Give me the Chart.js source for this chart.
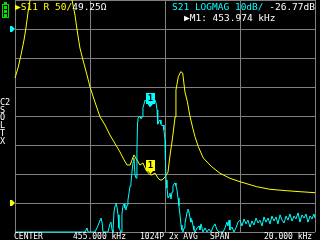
<!DOCTYPE html>
<html>
<head>
<meta charset="utf-8">
<script src="https://cdn.jsdelivr.net/npm/chart.js@4/dist/chart.umd.min.js"></script>
<style>
  html, body { margin: 0; padding: 0; background: #000; }
  #wrap { position: relative; width: 320px; height: 240px; overflow: hidden; background: #000; }
  #chart { position: absolute; left: 0; top: 0; }
  .t { position: absolute; font-family: "DejaVu Sans Mono", monospace; white-space: pre; color: #fff; }
  .hdr { font-size: 9.5px; line-height: 10px; }
  .ftr { font-size: 8px; line-height: 8px; }
  .side { font-size: 8.5px; line-height: 7.7px; left: 0px; top: 99px; }
  .yel { color: #ffff00; }
  .cya { color: #00ffff; }
  #batt { position: absolute; left: 2px; top: 4px; width: 5px; height: 12px; border: 1px solid #00e000; }
  #batt i { position: absolute; left: 1px; width: 3px; height: 3px; background: #00e000; }
  #batt b { position: absolute; left: 1px; top: -3px; width: 3px; height: 2px; background: #00e000; }
</style>
</head>
<body>
<div id="wrap">
  <canvas id="chart" width="320" height="240"></canvas>
  <div id="batt"><b></b><i style="top:1px"></i><i style="top:5px"></i><i style="top:9px"></i></div>
  <div class="t hdr" style="left:15px; top:2px;"><span class="yel">▶S11 R 50/</span>49.25Ω</div>
  <div class="t hdr" style="left:172px; top:2px;"><span class="cya">S21 LOGMAG 10dB/</span> -26.77dB</div>
  <div class="t hdr" style="left:184px; top:13px;">▶M1: 453.974 kHz</div>
  <div class="t side">C2<br>S<br>O<br>L<br>T<br>X</div>
  <div class="t ftr" style="left:14px; top:233px;">CENTER</div>
  <div class="t ftr" style="left:73px; top:233px;">455.000 kHz</div>
  <div class="t ftr" style="left:140px; top:233px;">1024P 2x AVG</div>
  <div class="t ftr" style="left:210px; top:233px;">SPAN</div>
  <div class="t ftr" style="left:264px; top:233px;">20.000 kHz</div>
</div>
<script>
// sweep: 445 .. 465 kHz (center 455, span 20)
const freqMin = 445;
const freqMax = 465;

// S11 resistance (ohm)
const s11Freq = [445.00, 445.20, 445.40, 445.60, 445.73, 445.87, 446.00, 446.20, 446.67, 447.33, 447.67,
  448.00, 448.40, 448.67, 448.80, 449.00, 449.13, 449.33, 449.53, 449.80, 450.00, 450.33, 450.67,
  451.00, 451.33, 451.53, 451.80, 452.00, 452.20, 452.47, 452.67, 452.80, 452.93, 453.13, 453.33,
  453.53, 453.73, 453.974, 454.13, 454.33, 454.53, 454.67, 454.80, 455.00, 455.20, 455.33, 455.51,
  455.67, 455.73, 455.89, 456.05, 456.18, 456.33, 456.49, 456.67, 456.85, 457.00, 457.22, 457.55,
  458.11, 458.67, 459.33, 460.00, 461.11, 462.00, 463.11, 464.00, 465.00];
const s11R = [215.5, 232.8, 255.2, 281.0, 301.7, 329.3, 350.0, 419.0, 522.0, 591.0, 600.0,
  574.0, 488.0, 402.0, 350.0, 324.1, 300.0, 267.2, 246.6, 220.7, 200.0, 174.1, 148.3,
  134.5, 117.2, 108.6, 96.6, 87.9, 77.6, 65.5, 65.5, 74.1, 82.8, 74.1, 65.5,
  69.0, 56.9, 49.25, 48.3, 51.7, 43.1, 39.7, 39.7, 44.8, 53.4, 81.0, 113.8,
  148.3, 194.8, 217.8, 226.4, 224.1, 191.4, 174.7, 148.8, 129.3, 114.3, 97.1, 77.6,
  62.6, 51.2, 42.6, 36.7, 28.1, 23.6, 21.2, 19.5, 17.8];

// S21 log magnitude (dB) (floor clamps at -70)
const s21Freq = [445.00, 449.67, 449.80, 449.87, 450.33, 450.53, 450.67, 450.73, 450.80, 450.87,
  451.20, 451.33, 451.40, 451.47, 451.53, 451.60, 451.67, 451.73, 451.80, 451.87, 451.93, 452.00,
  452.07, 452.13, 452.20, 452.27, 452.33, 452.40, 452.47, 452.53, 452.60, 452.67, 452.73, 452.80,
  452.87, 452.93, 453.00, 453.07, 453.13, 453.17, 453.20, 453.27, 453.33, 453.40, 453.47, 453.53,
  453.60, 453.67, 453.73, 453.87, 453.974, 454.07, 454.20, 454.33, 454.40, 454.47, 454.50, 454.53,
  454.60, 454.67, 454.73, 454.80, 454.87, 454.93, 455.00, 455.03, 455.07, 455.13, 455.20, 455.27,
  455.33, 455.40, 455.47, 455.53, 455.60, 455.67, 455.73, 455.80, 455.87, 455.93, 456.00, 456.07,
  456.13, 456.20, 456.27, 456.33, 456.40, 456.47, 456.53, 456.60, 456.67, 456.73, 456.80, 456.87,
  456.93, 457.00, 457.13, 457.27, 457.33, 457.40, 457.53, 457.67, 457.80, 457.93, 458.07, 458.20,
  458.33, 458.47, 458.60, 458.87, 459.00, 459.13, 459.20, 459.27, 459.33, 459.47, 459.60, 459.73,
  459.87, 460.00, 460.13, 460.27, 460.40, 460.53, 460.67, 460.80, 460.93, 461.07, 461.20, 461.33,
  461.47, 461.60, 461.73, 461.87, 462.00, 462.13, 462.27, 462.40, 462.53, 462.67, 462.80, 462.93,
  463.07, 463.20, 463.33, 463.47, 463.60, 463.73, 463.87, 464.00, 464.13, 464.27, 464.40, 464.53,
  464.67, 464.80, 464.93, 465.00];
const s21dB = [-70, -70, -68.6, -70, -70, -67.9, -65.9, -65.2, -66.6, -70,
  -70, -67.2, -66.6, -69.3, -70, -63.1, -61.0, -60.0, -61.4, -64.1, -68.6, -69.3,
  -70, -63.8, -61.0, -60.3, -61.7, -62.4, -60.7, -59.0, -56.6, -54.1, -53.1, -49.3,
  -45.9, -44.5, -50.3, -51.4, -41.7, -32.1, -30.7, -30.3, -30.0, -31.0, -30.3, -27.2,
  -25.9, -24.5, -24.5, -25.5, -26.77, -25.2, -23.4, -24.5, -25.5, -27.9, -31.4, -32.8,
  -31.7, -31.4, -32.8, -33.4, -33.1, -34.8, -38.3, -45.2, -52.1, -54.8, -58.3, -57.6,
  -56.6, -58.6, -56.2, -54.1, -53.4, -53.1, -54.1, -55.5, -58.3, -61.0, -64.1, -67.6,
  -69.3, -70, -68.6, -67.2, -65.2, -63.1, -62.1, -63.1, -65.2, -66.6, -65.9, -67.9,
  -69.3, -70, -68.6, -67.9, -69.3, -67.2, -70, -68.6, -70, -69.0, -70, -68.3,
  -67.2, -69.3, -70, -70, -68.6, -66.6, -67.9, -65.9, -69.3, -68.3, -70, -68.6,
  -66.6, -65.9, -67.9, -65.5, -67.2, -65.9, -68.3, -66.2, -67.6, -65.2, -66.9, -65.9,
  -67.9, -64.8, -66.6, -65.2, -67.2, -64.5, -66.2, -64.8, -67.2, -64.1, -65.9, -66.9,
  -64.5, -65.9, -63.8, -66.2, -64.5, -65.5, -63.4, -66.6, -64.1, -65.2, -63.8, -66.6,
  -64.5, -65.5, -63.8, -65.2];

// marker 1
const markerFreq = 453.974;
const markerS21 = -26.77;
const markerR = 49.25;

const YEL = '#ffff00';
const CYA = '#00ffff';
const GRID = '#808080';

function pairs(xs, ys) {
  return xs.map((f, i) => ({ x: f, y: ys[i] }));
}

function drawMarker(ctx, px, py, color) {
  ctx.save();
  ctx.fillStyle = color;
  ctx.fillRect(Math.round(px) - 4, Math.round(py) - 14, 9, 11);
  ctx.beginPath();
  ctx.moveTo(Math.round(px) - 2, Math.round(py) - 3);
  ctx.lineTo(Math.round(px) + 3, Math.round(py) - 3);
  ctx.lineTo(Math.round(px) + 0.5, Math.round(py));
  ctx.closePath();
  ctx.fill();
  ctx.fillStyle = '#000';
  ctx.font = 'bold 9px "DejaVu Sans Mono"';
  ctx.textAlign = 'center';
  ctx.textBaseline = 'middle';
  ctx.fillText('1', Math.round(px) + 0.5, Math.round(py) - 8);
  ctx.restore();
}

function drawRef(ctx, py, color) {
  ctx.save();
  ctx.fillStyle = color;
  ctx.beginPath();
  ctx.moveTo(10, py - 3);
  ctx.lineTo(12, py - 3);
  ctx.lineTo(15, py);
  ctx.lineTo(12, py + 3);
  ctx.lineTo(10, py + 3);
  ctx.closePath();
  ctx.fill();
  ctx.restore();
}

const overlay = {
  id: 'overlay',
  afterDatasetsDraw(chart) {
    const ctx = chart.ctx;
    const sx = chart.scales.x;
    const sy = chart.scales.y;
    const sr = chart.scales.y2;
    drawRef(ctx, Math.round(sy.getPixelForValue(0)), CYA);
    drawRef(ctx, Math.round(sr.getPixelForValue(0)), YEL);
    drawMarker(ctx, sx.getPixelForValue(markerFreq), sr.getPixelForValue(markerR), YEL);
    drawMarker(ctx, sx.getPixelForValue(markerFreq), sy.getPixelForValue(markerS21), CYA);
  }
};

new Chart(document.getElementById('chart').getContext('2d'), {
  type: 'line',
  data: {
    datasets: [
      {
        label: 'S21 LOGMAG',
        data: pairs(s21Freq, s21dB),
        yAxisID: 'y',
        borderColor: CYA,
        borderWidth: 1,
        pointRadius: 0,
        tension: 0,
        clip: false,
        order: 0
      },
      {
        label: 'S11 R',
        data: pairs(s11Freq, s11R),
        yAxisID: 'y2',
        borderColor: YEL,
        borderWidth: 1,
        pointRadius: 0,
        tension: 0,
        clip: false,
        order: 1
      }
    ]
  },
  options: {
    responsive: false,
    animation: false,
    devicePixelRatio: 1,
    layout: { padding: { left: 15, right: 5, top: 0, bottom: 8 } },
    plugins: { legend: { display: false }, tooltip: { enabled: false } },
    scales: {
      x: {
        type: 'linear',
        min: freqMin,
        max: freqMax,
        ticks: { display: false, stepSize: 5 },
        grid: { color: GRID, drawTicks: false },
        border: { display: false }
      },
      y: {
        min: -70,
        max: 10,
        ticks: { display: false, stepSize: 10 },
        grid: { color: GRID, drawTicks: false },
        border: { display: false }
      },
      y2: {
        min: -50,
        max: 350,
        display: false
      }
    }
  },
  plugins: [overlay]
});
</script>
</body>
</html>
